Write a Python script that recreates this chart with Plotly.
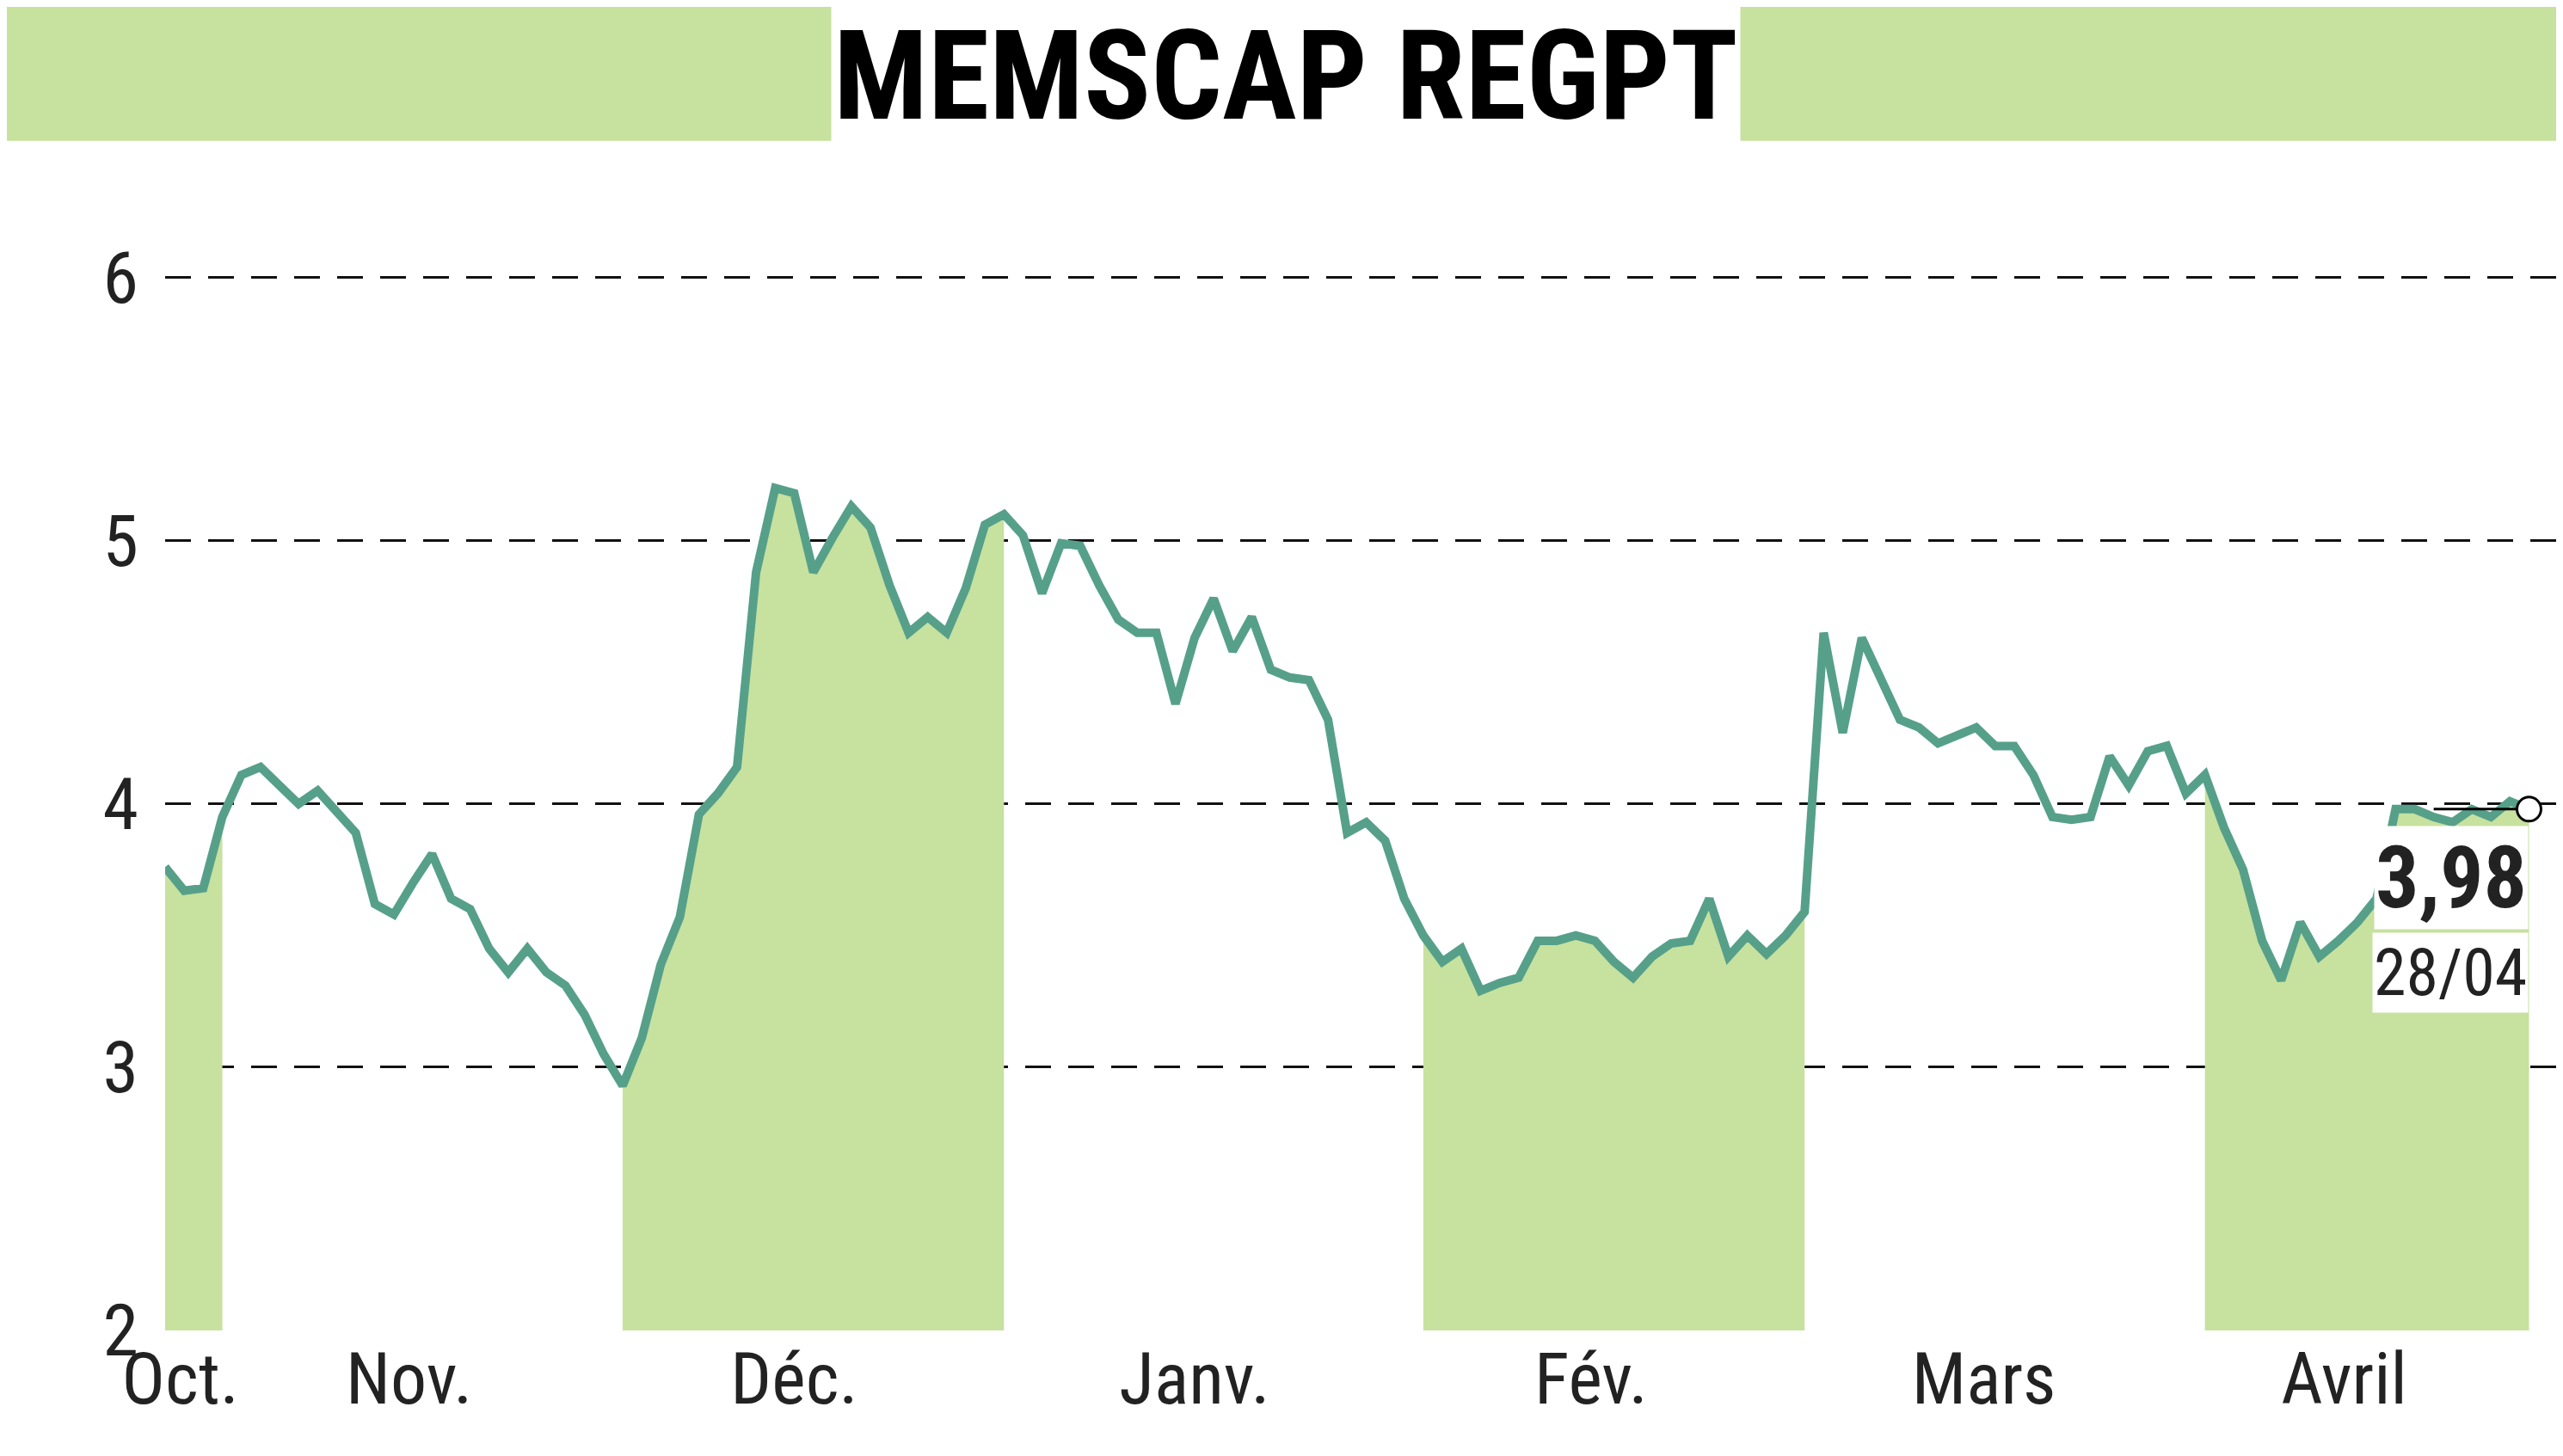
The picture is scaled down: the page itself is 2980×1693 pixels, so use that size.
import plotly.graph_objects as go

prices = [3.76,3.67,3.68,3.95,4.11,4.14,4.07,4.0,4.05,3.97,3.89,3.62,3.58,3.70,3.81,3.64,3.60,3.45,3.36,3.45,3.36,3.31,3.20,3.05,2.93,3.11,3.39,3.57,3.96,4.04,4.14,4.88,5.20,5.18,4.88,5.01,5.13,5.05,4.83,4.65,4.71,4.65,4.82,5.06,5.10,5.02,4.80,4.99,4.98,4.83,4.70,4.65,4.65,4.38,4.63,4.78,4.58,4.71,4.51,4.48,4.47,4.32,3.89,3.93,3.86,3.64,3.50,3.40,3.45,3.29,3.32,3.34,3.48,3.48,3.50,3.48,3.40,3.34,3.42,3.47,3.48,3.64,3.42,3.50,3.43,3.50,3.59,4.65,4.27,4.63,4.47,4.32,4.29,4.23,4.26,4.29,4.22,4.22,4.11,3.95,3.94,3.95,4.18,4.07,4.20,4.22,4.04,4.11,3.91,3.75,3.48,3.33,3.55,3.42,3.48,3.55,3.64,3.98,3.98,3.95,3.93,3.98,3.95,4.01,3.98]
month_labels = ["Oct.","Nov.","Déc.","Janv.","Fév.","Mars","Avril"]
month_starts = [0,3,24,44,66,86,107]
month_label_pos = [0.8,12.8,33,54,74.8,95.4,114.3]
yticks = [2,3,4,5,6]
last_label = "3,98"
last_date = "28/04"

FONT = 'Liberation Sans Narrow, Roboto Condensed, DejaVu Sans Condensed'
n = len(prices)
x = list(range(n))
fig = go.Figure()
bounds = month_starts + [n]
for m in range(0, len(month_starts), 2):
    s, e = bounds[m], bounds[m+1]
    e2 = min(e + 1, n)
    xs = x[s:e2]
    ys = prices[s:e2]
    fig.add_trace(go.Scatter(x=xs, y=ys, fill='tozeroy', mode='none',
                             fillcolor='#c7e19f', hoverinfo='skip'))
fig.add_trace(go.Scatter(x=x, y=prices, mode='lines', line=dict(color='#56a08a', width=10)))
fig.add_trace(go.Scatter(x=[n-1-5, n-1], y=[prices[-1]]*2, mode='lines', line=dict(color='black', width=3)))
fig.add_trace(go.Scatter(x=[n-1], y=[prices[-1]], mode='markers',
                         marker=dict(size=28, color='white', line=dict(color='black', width=3))))

fig.add_shape(type='rect', xref='paper', yref='paper', x0=-0.1, x1=1.1, y0=1.027, y1=1.3,
              fillcolor='#c7e19f', line_width=0, layer='below')
fig.add_annotation(xref='paper', yref='paper', x=0.466, y=1.083, text="<b>MEMSCAP REGPT</b>",
                   showarrow=False, font=dict(size=145, color='black', family=FONT),
                   bgcolor='white', yanchor='middle', xanchor='center', borderpad=2)
fig.add_annotation(x=n-1, y=3.72, text="<b>"+last_label+"</b>", showarrow=False, xanchor='right',
                   font=dict(size=100, color='#222', family=FONT), bgcolor='white')
fig.add_annotation(x=n-1, y=3.36, text=last_date, showarrow=False, xanchor='right',
                   font=dict(size=76, color='#222', family=FONT), bgcolor='white')

fig.update_layout(width=2980, height=1693, showlegend=False, plot_bgcolor='white', paper_bgcolor='white',
                  margin=dict(l=184, r=0, t=192, b=154),
                  font=dict(family=FONT, size=84, color='#222'))
fig.update_xaxes(range=[0, (n-1)*(1+25/1446)], tickvals=month_label_pos, ticktext=month_labels,
                 showgrid=False, zeroline=False, ticks='', showline=False)
fig.update_yaxes(range=[2, 6.4], tickvals=yticks, showgrid=True, gridcolor='#111', griddash='30px,20px',
                 gridwidth=3, zeroline=False, ticks='', ticklabelstandoff=30)
fig.write_html("out.html")
